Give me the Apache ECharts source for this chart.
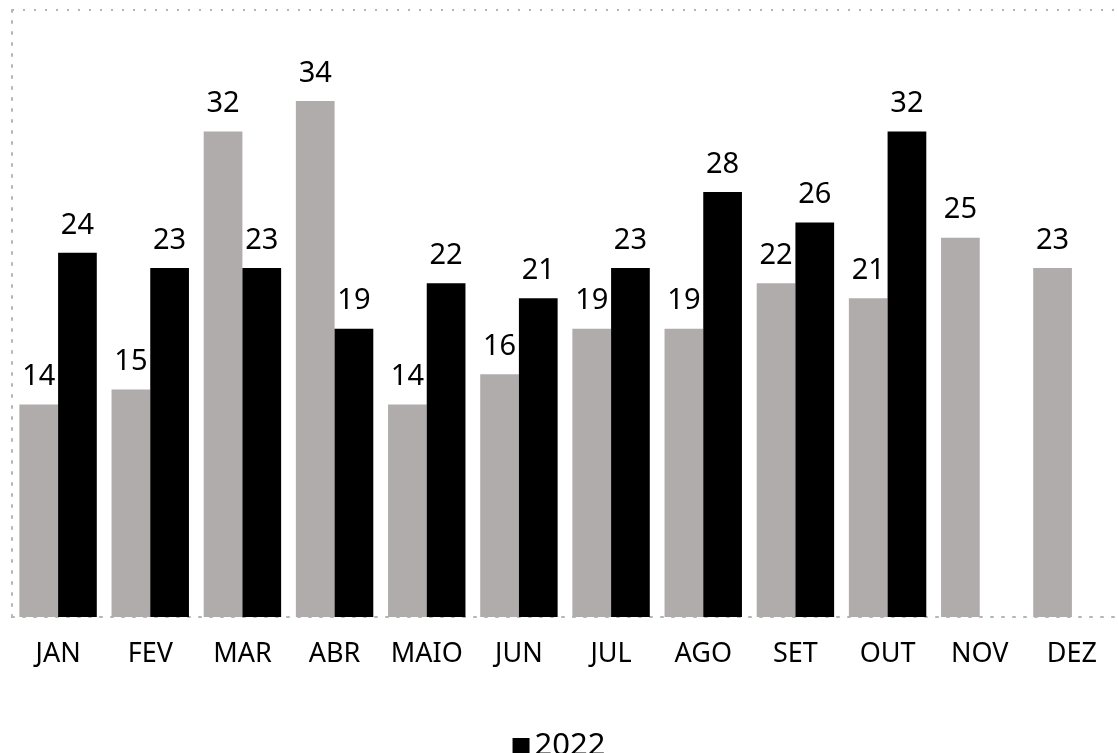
<!DOCTYPE html>
<html>
<head>
<meta charset="utf-8">
<script src="https://cdn.jsdelivr.net/npm/echarts@6/dist/echarts.min.js"></script>
<style>
html,body{margin:0;padding:0;background:#fff;}
#chart{width:1118px;height:753px;}
</style>
</head>
<body>
<div id="chart"></div>
<script>
const months = ['JAN','FEV','MAR','ABR','MAIO','JUN','JUL','AGO','SET','OUT','NOV','DEZ'];
const values2021 = [14,15,32,34,14,16,19,19,22,21,25,23];
const values2022 = [24,23,23,19,22,21,23,28,26,32,null,null];

const FONT = '"Noto Sans", sans-serif';
const chart = echarts.init(document.getElementById('chart'));
const labelStyle = {show:true, position:'top', distance:13, color:'#000', fontSize:29, fontFamily:FONT};
const dotted = {color:'#b5b5b5', type:[2,9], width:2};
chart.setOption({
  animation:false,
  textStyle:{fontFamily:FONT},
  grid:{left:12, right:0, top:10, bottom:136, containLabel:false},
  legend:{
    data:['2022'], top:726, left:'center', icon:'rect', itemWidth:17, itemHeight:17, itemGap:7,
    textStyle:{fontSize:31, color:'#000', fontFamily:FONT}
  },
  xAxis:{
    type:'category', data:months,
    axisLine:{show:true, lineStyle:dotted},
    axisTick:{show:false},
    axisLabel:{color:'#000', fontSize:27, margin:24, interval:0, fontFamily:FONT}
  },
  yAxis:{
    type:'value', min:0, max:40, interval:40,
    axisLine:{show:true, lineStyle:dotted},
    axisTick:{show:false},
    axisLabel:{show:false},
    splitLine:{show:true, lineStyle:dotted}
  },
  series:[
    {name:'2021', type:'bar', data:values2021, barGap:'0%', barCategoryGap:'16%',
     itemStyle:{color:'#b0acab'}, label:labelStyle},
    {name:'2022', type:'bar', data:values2022,
     itemStyle:{color:'#000'}, label:labelStyle}
  ]
});
</script>
</body>
</html>
